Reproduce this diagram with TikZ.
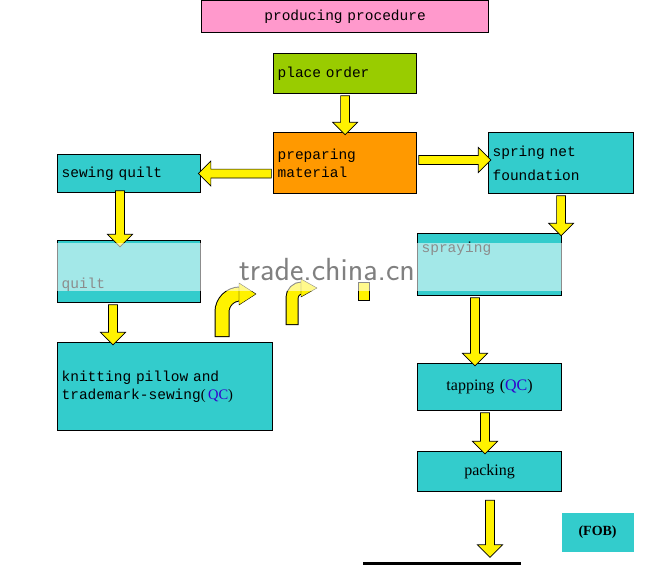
\documentclass[tikz,border=0pt]{standalone}
\usepackage{fontspec}
\setmainfont{Liberation Serif}
\newfontfamily\boxfont{Liberation Mono}
\usetikzlibrary{shapes.arrows, calc}
\definecolor{boxcyan}{HTML}{33CCCC}
\definecolor{boxpink}{HTML}{FF99CC}
\definecolor{boxgreen}{HTML}{99CC00}
\definecolor{boxorange}{HTML}{FF9900}
\definecolor{qcblue}{HTML}{3300CC}
\tikzset{%
  % Specifications for style of nodes:
    base/.style = {rectangle, draw=black, line width=1.2pt, anchor=north west, inner sep=4pt,
                   text width=#1, align=left, font=\boxfont\fontsize{14.5}{18}\selectfont},
    base/.default = 130pt,
    stepBox/.style = {base=#1, fill=boxcyan},
    stepBox/.default = 130pt,
    yArrow/.style = {single arrow, draw=black, fill=yellow, line width=0.7pt,
                     minimum width=25pt, single arrow head extend=6pt, inner sep=3pt},
}
\begin{document}
\begin{tikzpicture}[x=1pt, y=-1pt]
  \useasboundingbox (0,0) rectangle (654,565);
  \node (title)    [base=279pt, fill=boxpink, minimum height=32pt, align=center] at (201,0)
                                                 {producing procedure};
  \node (order)    [base=135pt, fill=boxgreen, minimum height=40pt] at (273,53) {place order};
  \node (prepare)  [base=135pt, fill=boxorange, minimum height=61pt] at (273,132)
                                                 {preparing\\material};
  \node (spring)   [stepBox=137pt, minimum height=61pt] at (488,132)
                                                 {spring net\\[6pt]foundation};
  \node (sewing)   [stepBox=135pt, minimum height=38pt] at (57,154) {sewing quilt};
  \node (spraying) [stepBox=136pt, minimum height=62pt, text depth=34pt] at (417,233) {spraying};
  \node (quilt)    [stepBox=135pt, minimum height=62pt, text height=36pt] at (57,240) {quilt};
  \node (knitting) [stepBox=207pt, minimum height=88pt] at (57,342)
           {knitting pillow and\\trademark-sewing\rmfamily (\,\textcolor{qcblue}{QC})};
  \node (tapping)  [stepBox=136pt, minimum height=47pt, align=center, font=\fontsize{16}{18}\selectfont]
           at (417,363) {tapping (\textcolor{qcblue}{QC})};
  \node (packing)  [stepBox=136pt, minimum height=40pt, align=center, font=\fontsize{16}{18}\selectfont]
           at (417,451) {packing};
  \node (fob)      [base=64pt, fill=boxcyan, draw=none, minimum height=39pt, align=center,
                    font=\bfseries\fontsize{14}{16}\selectfont] at (561,512) {(FOB)};
  \node (bar)      [base=158pt, fill=black, draw=none, minimum height=4pt, inner sep=0pt] at (362,561) {};

  % Block arrows between the steps
  \node[yArrow, minimum height=39pt, rotate=-90] at ($(order.south)!.5!(prepare.north)$) {};
  \node[yArrow, minimum height=73pt, rotate=180] at ($(prepare.west|-sewing)!.5!(sewing.east)$) {};
  \node[yArrow, minimum height=72pt] at ($(prepare.east|-0,160)!.5!(spring.west|-0,160)$) {};
  \node[yArrow, minimum height=40pt, rotate=-90] at ($(spring.south)!.5!(spring.south|-spraying.north)$) {};
  \node[yArrow, minimum height=56pt, rotate=-90] at ($(sewing.south -| 120,0)!.5!(quilt.north -| 120,0)$) {};
  \node[yArrow, minimum height=40pt, rotate=-90] at ($(quilt.south -| 113,0)!.5!(knitting.north -| 113,0)$) {};
  \node[yArrow, minimum height=68pt, rotate=-90] at ($(spraying.south -| 475,0)!.5!(tapping.north -| 475,0)$) {};
  \node[yArrow, minimum height=41pt, rotate=-90] at ($(tapping.south -| 485,0)!.5!(packing.north -| 485,0)$) {};
  \node[yArrow, minimum height=57pt, rotate=-90] at ($(packing.south -| 490,0)!.5!(bar.north -| 490,0)$) {};

  % Curved arrows under the watermark
  \draw[line width=15pt, black] (222,337) -- (222,312) arc[start angle=180, end angle=270, radius=18];
  \draw[line width=13pt, yellow] (222,336) -- (222,312) arc[start angle=180, end angle=270, radius=18];
  \fill[yellow, draw=black] (239,283) -- (256,294) -- (239,305) -- cycle;
  \draw[line width=13pt, black] (292,325) -- (292,298) arc[start angle=180, end angle=270, radius=10];
  \draw[line width=11pt, yellow] (292,324) -- (292,298) arc[start angle=180, end angle=270, radius=10];
  \fill[yellow, draw=black] (301,279) -- (317,288) -- (301,297) -- cycle;
  \fill[yellow, draw=black] (358,282) rectangle (369,300);

  % Watermark band
  \fill[white, opacity=0.55] (45,243) rectangle (565,291);
  \node[text=gray, font=\sffamily\fontsize{32}{36}\selectfont] (mark) at (327,270) {trade.china.cn};
\end{tikzpicture}
\end{document}
